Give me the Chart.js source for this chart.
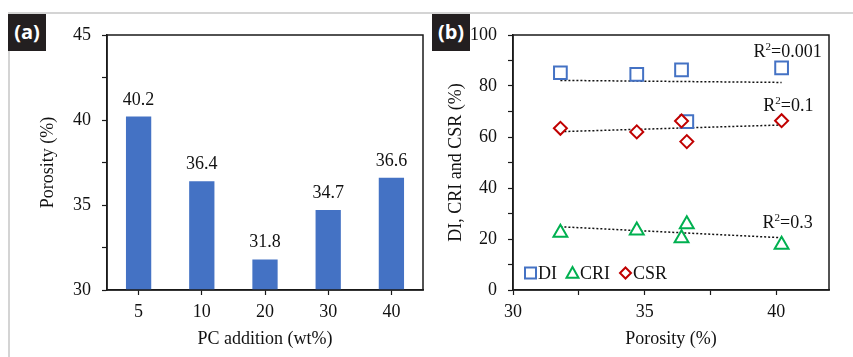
<!DOCTYPE html>
<html lang="en">
<head>
<meta charset="UTF-8">
<title>Porosity vs PC addition and coke indices</title>
<style>
  body { margin: 0; background: #fff; }
  #wrap { position: relative; width: 853px; height: 357px; overflow: hidden; background: #fff; }
  canvas { position: absolute; top: 0; }
  #chartA { left: 0; }
  #chartB { left: 425px; }
  .rule-h { position: absolute; left: 8px; top: 12px; width: 845px; height: 2px; background: #d4d4d4; }
  .rule-v { position: absolute; left: 8px; top: 12px; width: 2px; height: 345px; background: #d4d4d4; }
  .tag {
    position: absolute; top: 14px; width: 38px; height: 37px;
    background: #231f20; color: #fff; z-index: 2;
    font: bold 20px 'Open Sans', 'DejaVu Sans', sans-serif;
    line-height: 36px; text-align: center;
  }
</style>
</head>
<body>
<div id="wrap">
  <div class="rule-h"></div>
  <div class="rule-v"></div>
  <canvas id="chartA" width="430" height="357"></canvas>
  <canvas id="chartB" width="428" height="357"></canvas>
  <div class="tag" style="left:8px">(a)</div>
  <div class="tag" style="left:432px">(b)</div>
</div>

<script src="https://cdn.jsdelivr.net/npm/chart.js"></script>
<script>
// panel (a)
const pcAddition = ['5', '10', '20', '30', '40'];
const porosityByPc = [40.2, 36.4, 31.8, 34.7, 36.6];

// panel (b)
const porosity = [31.8, 34.7, 36.4, 36.6, 40.2];
const diValues = [85.2, 84.6, 86.3, 66.0, 87.1];
const criValues = [22.5, 23.3, 20.3, 25.8, 17.7];
const csrValues = [63.4, 62.0, 66.3, 58.2, 66.4];

// dotted trend lines (end points)
const trendX = [31.8, 40.2];
const diTrend = [82.2, 81.4];
const criTrend = [24.8, 20.5];
const csrTrend = [62.1, 64.7];
const r2Values = ['0.001', '0.1', '0.3'];

const serif = '"Liberation Serif", "Times New Roman", serif';
const ink = '#111';

function pts(xs, ys) {
  return xs.map((x, i) => ({ x: x, y: ys[i] }));
}

function drawMarker(ctx, style, cx, cy, s, color) {
  ctx.beginPath();
  if (style === 'rect') {
    ctx.rect(cx - s, cy - s, 2 * s, 2 * s);
  } else if (style === 'triangle') {
    ctx.moveTo(cx, cy - s);
    ctx.lineTo(cx + s, cy + s * 0.8);
    ctx.lineTo(cx - s, cy + s * 0.8);
    ctx.closePath();
  } else {
    ctx.moveTo(cx, cy - s);
    ctx.lineTo(cx + s, cy);
    ctx.lineTo(cx, cy + s);
    ctx.lineTo(cx - s, cy);
    ctx.closePath();
  }
  ctx.strokeStyle = color;
  ctx.lineWidth = 2;
  ctx.stroke();
}

// box round the plot area
const framePlugin = {
  id: 'frame',
  afterDraw(chart) {
    const { ctx, chartArea: a } = chart;
    ctx.save();
    ctx.strokeStyle = '#1a1a1a';
    ctx.lineWidth = 1.5;
    ctx.strokeRect(a.left, a.top, a.right - a.left, a.bottom - a.top);
    ctx.restore();
  }
};

const barLabels = {
  id: 'barLabels',
  afterDatasetsDraw(chart) {
    const ctx = chart.ctx;
    ctx.save();
    ctx.font = '18px ' + serif;
    ctx.fillStyle = ink;
    ctx.textAlign = 'center';
    ctx.textBaseline = 'alphabetic';
    chart.getDatasetMeta(0).data.forEach((bar, i) => {
      ctx.fillText(porosityByPc[i].toFixed(1), bar.x, bar.y - 12);
    });
    ctx.restore();
  }
};

const r2Notes = {
  id: 'r2Notes',
  afterDatasetsDraw(chart) {
    const { ctx, scales: { x, y } } = chart;
    const anchors = [
      { x: 41.72, y: 93.8 },
      { x: 41.41, y: 72.5 },
      { x: 41.38, y: 26.7 }
    ];
    const big = '18px ' + serif;
    const small = '11px ' + serif;
    ctx.save();
    ctx.fillStyle = ink;
    ctx.textBaseline = 'alphabetic';
    anchors.forEach((n, i) => {
      const rest = '=' + r2Values[i];
      ctx.font = big;
      const wR = ctx.measureText('R').width;
      const wRest = ctx.measureText(rest).width;
      ctx.font = small;
      const w2 = ctx.measureText('2').width;
      let px = x.getPixelForValue(n.x) - (wR + w2 + wRest);
      const py = y.getPixelForValue(n.y) + 6;
      ctx.font = big;
      ctx.fillText('R', px, py);
      px += wR;
      ctx.font = small;
      ctx.fillText('2', px, py - 7);
      px += w2;
      ctx.font = big;
      ctx.fillText(rest, px, py);
    });
    ctx.restore();
  }
};

// legend sits inside the plot, bottom left
const insideLegend = {
  id: 'insideLegend',
  afterDraw(chart) {
    const { ctx, chartArea: a } = chart;
    const items = chart.data.datasets.filter(d => d.legendSize);
    const y = a.bottom - 17;
    let x = a.left + 11;
    ctx.save();
    ctx.font = '18px ' + serif;
    ctx.fillStyle = ink;
    ctx.textBaseline = 'middle';
    items.forEach(d => {
      drawMarker(ctx, d.pointStyle, x + 6.5, y, d.legendSize, d.borderColor);
      x += 14;
      ctx.fillText(d.label, x, y + 1);
      x += ctx.measureText(d.label).width + 9;
    });
    ctx.restore();
  }
};

const tickFont = { family: serif, size: 18 };
const titleFont = { family: serif, size: 18 };

function axisGrid() {
  return { drawOnChartArea: false, tickLength: 5, tickColor: '#1a1a1a', tickWidth: 1.2 };
}

new Chart(document.getElementById('chartA'), {
  type: 'bar',
  data: {
    labels: pcAddition,
    datasets: [{
      label: 'Porosity',
      data: porosityByPc,
      backgroundColor: '#4472C4',
      categoryPercentage: 1,
      barPercentage: 0.4
    }]
  },
  options: {
    responsive: false,
    animation: false,
    layout: { padding: { left: 33, top: 35, right: 7, bottom: 3 } },
    plugins: { legend: { display: false }, tooltip: { enabled: false } },
    scales: {
      x: {
        grid: Object.assign(axisGrid(), { offset: false }),
        border: { color: '#1a1a1a', width: 1.5 },
        ticks: { font: tickFont, color: ink, padding: 6 },
        title: { display: true, text: 'PC addition (wt%)', font: titleFont, color: ink, padding: { top: 0, bottom: 4 } },
        afterFit(scale) { scale.height = 64; }
      },
      y: {
        min: 30,
        max: 45,
        grid: axisGrid(),
        border: { color: '#1a1a1a', width: 1.5 },
        ticks: {
          stepSize: 2.5, font: tickFont, color: ink, padding: 11,
          callback: v => (v % 5 === 0 ? v : '')
        },
        title: { display: true, text: 'Porosity (%)', font: titleFont, color: ink, padding: { top: 4, bottom: 0 } },
        afterFit(scale) { scale.width = 74; }
      }
    }
  },
  plugins: [framePlugin, barLabels]
});

new Chart(document.getElementById('chartB'), {
  type: 'scatter',
  data: {
    datasets: [
      {
        label: 'DI', data: pts(porosity, diValues), pointStyle: 'rect', pointRadius: 9,
        borderColor: '#4472C4', backgroundColor: '#fff', pointBorderWidth: 2, order: 2, legendSize: 5.5
      },
      {
        label: 'CRI', data: pts(porosity, criValues), pointStyle: 'triangle', pointRadius: 8,
        borderColor: '#00B050', backgroundColor: '#fff', pointBorderWidth: 2, order: 1, legendSize: 6
      },
      {
        label: 'CSR', data: pts(porosity, csrValues), pointStyle: 'rectRot', pointRadius: 6.5,
        borderColor: '#C00000', backgroundColor: '#fff', pointBorderWidth: 2, order: 0, legendSize: 5.5
      },
      { label: 'DI trend', data: pts(trendX, diTrend), showLine: true, pointRadius: 0, borderColor: '#111', borderWidth: 1.5, borderDash: [2, 2], order: 3 },
      { label: 'CRI trend', data: pts(trendX, criTrend), showLine: true, pointRadius: 0, borderColor: '#111', borderWidth: 1.5, borderDash: [2, 2], order: 3 },
      { label: 'CSR trend', data: pts(trendX, csrTrend), showLine: true, pointRadius: 0, borderColor: '#111', borderWidth: 1.5, borderDash: [2, 2], order: 3 }
    ]
  },
  options: {
    responsive: false,
    animation: false,
    layout: { padding: { left: 16, top: 35, right: 24, bottom: 3 } },
    plugins: { legend: { display: false }, tooltip: { enabled: false } },
    scales: {
      x: {
        type: 'linear',
        min: 30,
        max: 42,
        grid: axisGrid(),
        border: { color: '#1a1a1a', width: 1.5 },
        ticks: {
          stepSize: 2.5, includeBounds: false, font: tickFont, color: ink, padding: 6,
          callback: v => (v % 5 === 0 ? v : '')
        },
        title: { display: true, text: 'Porosity (%)', font: titleFont, color: ink, padding: { top: 0, bottom: 4 } },
        afterFit(scale) { scale.height = 64; }
      },
      y: {
        min: 0,
        max: 100,
        grid: axisGrid(),
        border: { color: '#1a1a1a', width: 1.5 },
        ticks: {
          stepSize: 10, font: tickFont, color: ink, padding: 11,
          callback: v => (v % 20 === 0 ? v : '')
        },
        title: { display: true, text: 'DI, CRI and CSR (%)', font: titleFont, color: ink, padding: { top: 4, bottom: 0 } },
        afterFit(scale) { scale.width = 72; }
      }
    }
  },
  plugins: [framePlugin, r2Notes, insideLegend]
});
</script>
</body>
</html>
